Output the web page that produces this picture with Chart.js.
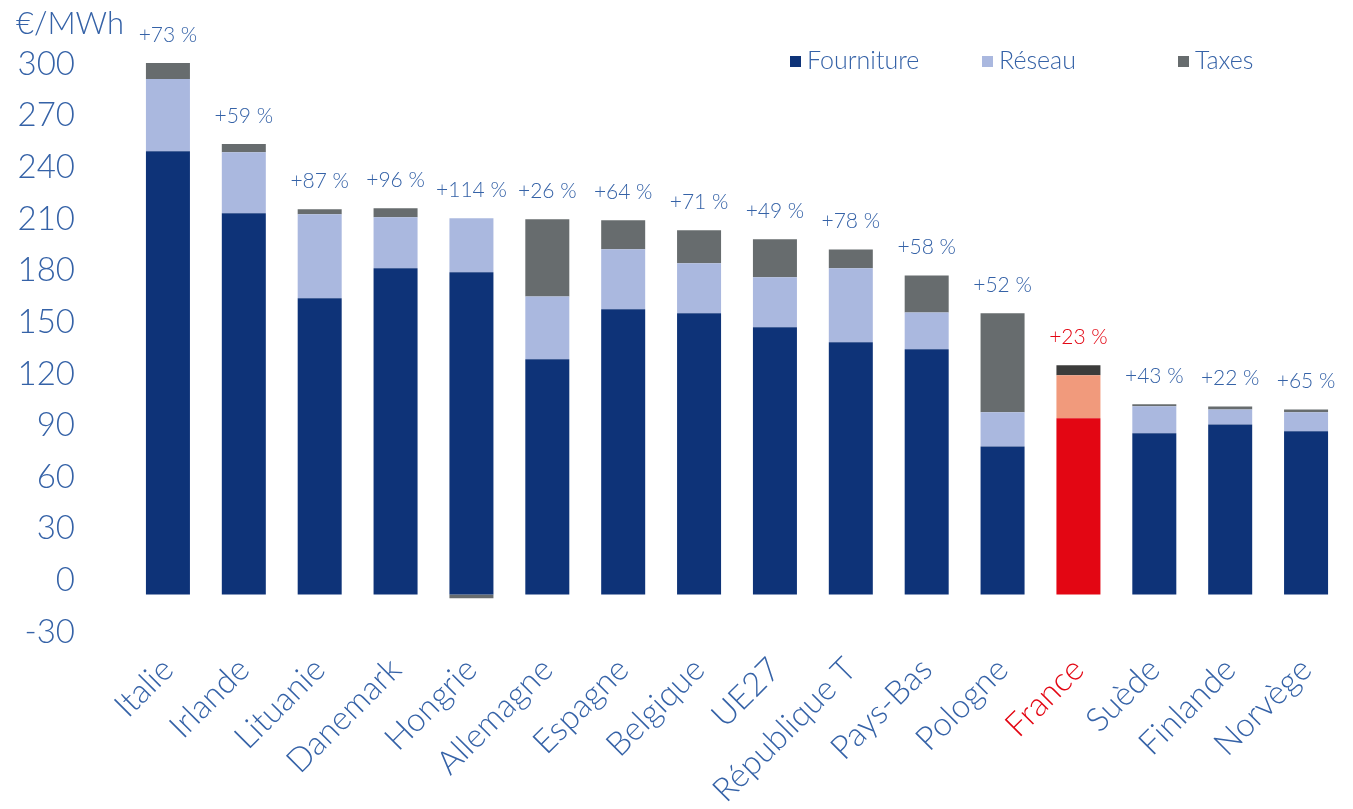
<!DOCTYPE html>
<html><head><meta charset="utf-8">
<script src="https://cdn.jsdelivr.net/npm/chart.js@4.4.0/dist/chart.umd.min.js"></script>
<style>html,body{margin:0;padding:0;background:#fff}#wrap{width:1353px;height:809px;position:relative}</style>
</head><body><div id="wrap"><canvas id="c" width="1353" height="809"></canvas></div>
<script>
const CATEGORIES = ['Italie','Irlande','Lituanie','Danemark','Hongrie','Allemagne','Espagne','Belgique','UE27','République T','Pays-Bas','Pologne','France','Suède','Finlande','Norvège'];
const FOURNITURE = [257.6,221.5,172.1,189.5,187.2,136.6,165.7,163.4,155.2,146.5,142.4,86.0,102.3,93.6,98.8,94.8];
const RESEAU     = [41.9,35.5,48.8,29.7,31.4,36.6,34.9,29.1,29.1,43.0,21.5,19.8,25.0,15.7,8.7,11.0];
const TAXES      = [9.3,4.7,2.9,5.2,-2.3,44.8,16.9,19.2,22.1,11.0,21.5,57.6,5.8,1.2,1.7,1.7];
const EVOLUTION  = ['+73 %','+59 %','+87 %','+96 %','+114 %','+26 %','+64 %','+71 %','+49 %','+78 %','+58 %','+52 %','+23 %','+43 %','+22 %','+65 %'];
const Y_TICKS    = [-30,0,30,60,90,120,150,180,210,240,270,300];
const UNIT = '€/MWh';
const HIGHLIGHT = 'France';

const FONT = 'Lato, "Open Sans", sans-serif';
const BLUE_TEXT = '#3562a7';
const RED = '#e30613';
const COLORS = {
  f: '#0e3378', r: '#aab8df', t: '#676c6e',
  fH: '#e30613', rH: '#f19a7c', tH: '#3c3c3b'
};
const isH = i => CATEGORIES[i] === HIGHLIGHT;

const legendPositions = [790, 982, 1178];

const extras = {
  id: 'extras',
  afterDatasetsDraw(chart) {
    const ctx = chart.ctx;
    ctx.save();
    // percentage labels
    ctx.font = '300 21px ' + FONT;
    ctx.textAlign = 'center';
    ctx.textBaseline = 'middle';
    CATEGORIES.forEach((c, i) => {
      let minY = Infinity, x = 0;
      chart.data.datasets.forEach((d, di) => {
        const el = chart.getDatasetMeta(di).data[i];
        x = el.x;
        minY = Math.min(minY, el.y, el.base);
      });
      ctx.fillStyle = isH(i) ? RED : BLUE_TEXT;
      ctx.fillText(EVOLUTION[i], x, minY - 28);
    });
    // unit
    ctx.font = '300 31px ' + FONT;
    ctx.textAlign = 'left';
    ctx.fillStyle = BLUE_TEXT;
    ctx.fillText(UNIT, 16, 24);
    // legend
    ctx.font = '300 25px ' + FONT;
    chart.data.datasets.forEach((d, di) => {
      const x = legendPositions[di];
      ctx.fillStyle = d.legendColor;
      ctx.fillRect(x, 56, 11, 11);
      ctx.fillStyle = BLUE_TEXT;
      ctx.fillText(d.label, x + 17, 61);
    });
    ctx.restore();
  }
};

new Chart(document.getElementById('c'), {
  type: 'bar',
  data: {
    labels: CATEGORIES,
    datasets: [
      { label: 'Fourniture', data: FOURNITURE, legendColor: COLORS.f,
        backgroundColor: c => isH(c.dataIndex) ? COLORS.fH : COLORS.f },
      { label: 'Réseau', data: RESEAU, legendColor: COLORS.r,
        backgroundColor: c => isH(c.dataIndex) ? COLORS.rH : COLORS.r },
      { label: 'Taxes', data: TAXES, legendColor: COLORS.t,
        backgroundColor: c => isH(c.dataIndex) ? COLORS.tH : COLORS.t }
    ]
  },
  options: {
    responsive: false,
    animation: false,
    devicePixelRatio: 1,
    layout: { padding: { top: 61, right: 9, left: 0, bottom: 0 } },
    datasets: { bar: { categoryPercentage: 1, barPercentage: 0.58, borderWidth: 0 } },
    plugins: { legend: { display: false }, tooltip: { enabled: false } },
    scales: {
      x: {
        stacked: true,
        grid: { display: false, drawTicks: false },
        border: { display: false },
        ticks: {
          autoSkip: false, maxRotation: 45, minRotation: 45, padding: 4,
          font: { family: FONT, size: 33, weight: 300 },
          color: c => isH(c.index) ? RED : BLUE_TEXT
        },
        afterFit: s => { s.height = 163; }
      },
      y: {
        stacked: true, min: -30, max: 310,
        grid: { display: false, drawTicks: false },
        border: { display: false },
        afterBuildTicks: s => { s.ticks = Y_TICKS.map(v => ({ value: v })); },
        ticks: {
          padding: 55, labelOffset: -14,
          font: { family: FONT, size: 33, weight: 300 },
          color: BLUE_TEXT
        },
        afterFit: s => { s.width = 130; s.paddingTop = 0; s.paddingBottom = 0; }
      }
    }
  },
  plugins: [extras]
});
</script></body></html>
